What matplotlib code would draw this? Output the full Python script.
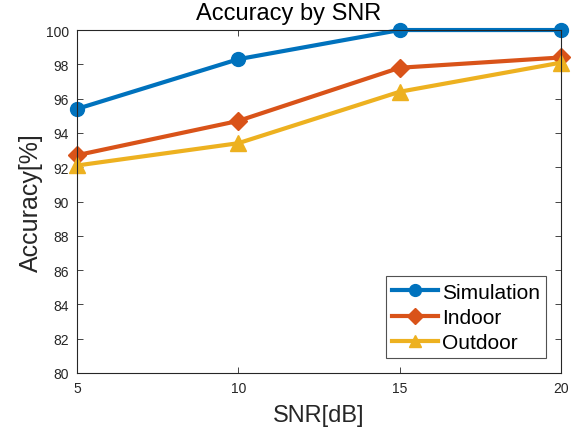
import matplotlib.pyplot as plt

plt.rcParams['font.family'] = ['Liberation Sans', 'DejaVu Sans']

snr = [5, 10, 15, 20]
simulation = [95.4, 98.3, 100.0, 100.0]
indoor = [92.7, 94.7, 97.8, 98.4]
outdoor = [92.1, 93.4, 96.4, 98.1]

fig = plt.figure(figsize=(5.77, 4.31), dpi=100)
ax = fig.add_axes([0.1334, 0.1323, 0.8389, 0.7957])

ax.plot(snr, simulation, color='#0072BD', lw=3, marker='o', ms=10, label='Simulation', clip_on=False)
ax.plot(snr, indoor, color='#D95319', lw=3, marker='D', ms=9, label='Indoor', clip_on=False)
ax.plot(snr, outdoor, color='#EDB120', lw=3, marker='^', ms=11, label='Outdoor', clip_on=False)

ax.set_xlim(5, 20)
ax.set_ylim(80, 100)
ax.set_xticks([5, 10, 15, 20])
ax.set_yticks(range(80, 101, 2))
ax.tick_params(direction='in', length=4, width=0.6, labelsize=10, colors='#262626',
               top=True, right=True, pad=6)
for s in ax.spines.values():
    s.set_color('#262626')
    s.set_linewidth(0.8)

ax.set_xlabel('SNR[dB]', fontsize=17, color='#262626', labelpad=6)
ax.set_ylabel('Accuracy[%]', fontsize=18, color='#262626', labelpad=2)
fig.text(0.501, 0.942, 'Accuracy by SNR', fontsize=17, ha='center', va='bottom', color='black')

leg = ax.legend(loc='lower right', fontsize=15, frameon=True, fancybox=False,
                edgecolor='#262626', handlelength=2.2, handletextpad=0.2,
                borderpad=0.3, labelspacing=0.3, borderaxespad=0.7, markerscale=0.85)
leg.get_frame().set_linewidth(0.8)

fig.savefig('out.png', dpi=100)
